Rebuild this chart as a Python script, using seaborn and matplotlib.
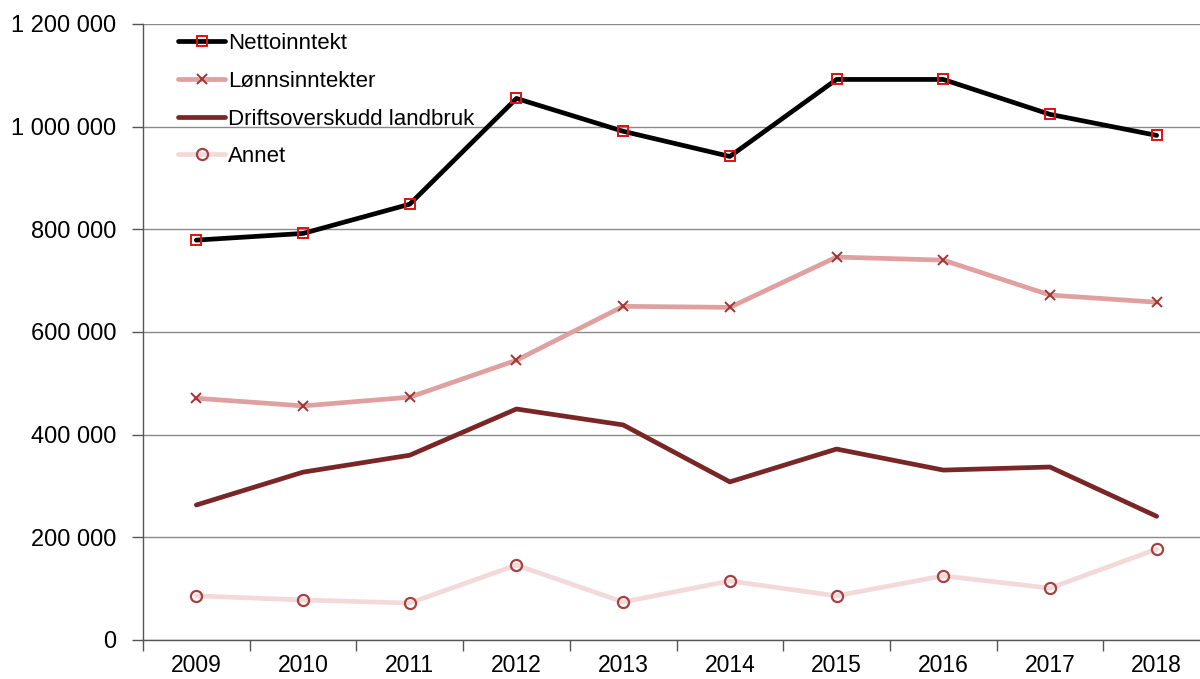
import matplotlib
matplotlib.use("Agg")
import matplotlib.pyplot as plt
import seaborn as sns
import pandas as pd
from matplotlib.ticker import FuncFormatter, FixedLocator

years = ["2009", "2010", "2011", "2012", "2013", "2014", "2015", "2016", "2017", "2018"]
nettoinntekt = [779000, 792000, 849000, 1055000, 991000, 942000, 1092000, 1092000, 1024000, 983000]
lonnsinntekter = [471000, 456000, 473000, 545000, 650000, 648000, 746000, 740000, 672000, 658000]
driftsoverskudd = [263000, 327000, 360000, 450000, 419000, 308000, 372000, 331000, 337000, 241000]
annet = [86000, 78000, 72000, 146000, 74000, 115000, 86000, 125000, 101000, 177000]
series_names = ["Nettoinntekt", "Lønnsinntekter", "Driftsoverskudd landbruk", "Annet"]
y_ticks = [0, 200000, 400000, 600000, 800000, 1000000, 1200000]

sns.set_theme(style="white")
plt.rcParams["font.family"] = ["Liberation Sans", "DejaVu Sans"]
plt.rcParams["text.color"] = "black"

fig = plt.figure(figsize=(12, 6.79), dpi=100)
ax = fig.add_axes([143 / 1200, 1 - 640 / 679, 1067 / 1200, 616 / 679])

idx = list(range(len(years)))
styles = [
    dict(color="black", marker="s", mfc="none", mec="#e01010", ms=7.5, mew=1.4),
    dict(color="#e0a0a0", marker="x", mec="#a03535", ms=6.5, mew=1.4),
    dict(color="#7a2626", marker=None),
    dict(color="#f3d9d9", marker="o", mfc="none", mec="#a84040", ms=8, mew=1.6),
]
values = [nettoinntekt, lonnsinntekter, driftsoverskudd, annet]
for name, vals, st in zip(series_names, values, styles):
    df = pd.DataFrame({"x": idx, "y": vals})
    kw = dict(st)
    color = kw.pop("color")
    sns.lineplot(data=df, x="x", y="y", ax=ax, color=color, lw=3.4, label=name, **kw)

ax.set_xlim(-0.5, 9.5)
ax.set_ylim(0, 1200000)
ax.set_yticks(y_ticks)
ax.yaxis.set_major_formatter(FuncFormatter(lambda v, p: f"{int(v):,}".replace(",", " ")))
ax.xaxis.set_major_locator(FixedLocator(idx))
ax.set_xticklabels(years)
ax.xaxis.set_minor_locator(FixedLocator([i - 0.5 for i in range(len(years) + 1)]))
ax.tick_params(axis="x", which="major", length=0, pad=10, labelsize=16.5, labelcolor="black")
ax.tick_params(axis="x", which="minor", length=8, width=1, color="#555555", direction="out", bottom=True)
ax.tick_params(axis="y", length=8, width=1, color="#555555", direction="out", left=True,
               labelsize=17, pad=11, labelcolor="black")
ax.grid(axis="y", color="#8a8a8a", lw=1)
ax.set_axisbelow(True)
for s in ["top", "right"]:
    ax.spines[s].set_visible(False)
for s in ["left", "bottom"]:
    ax.spines[s].set_color("#555555")
    ax.spines[s].set_linewidth(1)
ax.set_xlabel("")
ax.set_ylabel("")

leg = ax.legend(loc="upper left", bbox_to_anchor=(0.033, 0.985), frameon=False,
                fontsize=16, handlelength=2.1, handletextpad=0.15, labelspacing=0.75,
                borderaxespad=0, borderpad=0)
for t in leg.get_texts():
    t.set_color("black")

fig.savefig("out.png", dpi=100)
